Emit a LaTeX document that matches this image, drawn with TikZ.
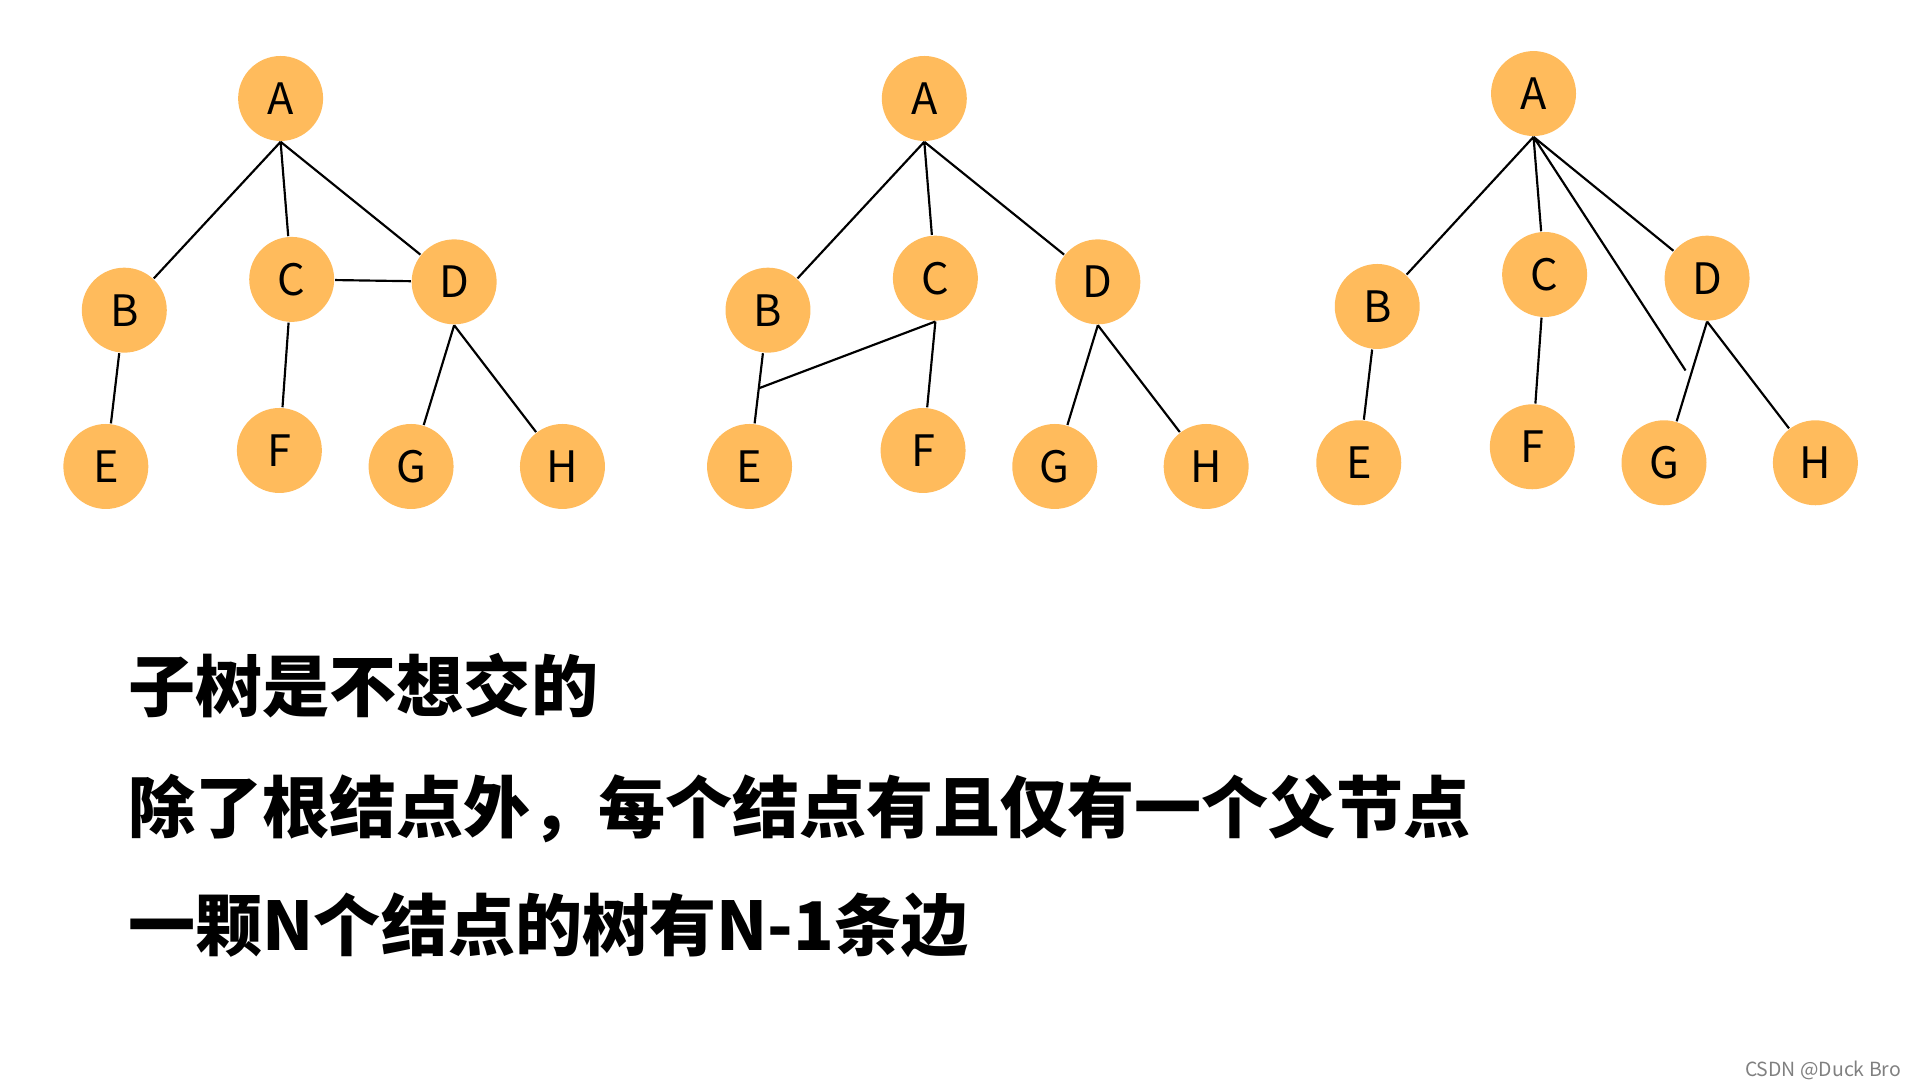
\documentclass[tikz,border=0pt]{standalone}
\usepackage{fontspec}
\setmainfont{Noto Sans CJK SC}
\usetikzlibrary{positioning,calc}

\tikzset{
  vert/.style={circle, fill=treeorange, minimum size=0.69cm, inner sep=0pt, font=\fontsize{10}{12}\selectfont},
  edge/.style={draw=black, line width=0.5pt},
  remark/.style={anchor=west, font=\fontsize{15.5}{18}\selectfont\bfseries}
}
\definecolor{treeorange}{HTML}{FFBB5C}

\begin{document}
\begin{tikzpicture}[x=0.01cm,y=-0.01cm]
        \useasboundingbox (0,0) rectangle (1560,878);

        % first tree
        \node[vert] (a1) at (228,80) {A};
        \node[vert] (b1) at (101,252) {B};
        \node[vert] (c1) at (237,227) {C};
        \node[vert] (d1) at (369,229) {D};
        \node[vert] (e1) at (86,379) {E};
        \node[vert] (f1) at (227,366) {F};
        \node[vert] (g1) at (334,379) {G};
        \node[vert] (h1) at (457,379) {H};
        \draw[edge] (a1.south) -- (b1) (a1.south) -- (c1) (a1.south) -- (d1)
                    (b1) -- (e1) (c1) -- (f1) (c1) -- (d1)
                    (d1.south) -- (g1) (d1.south) -- (h1);

        % second tree
        \node[vert] (a2) at (751,80) {A};
        \node[vert] (b2) at (624,252) {B};
        \node[vert] (c2) at (760,226) {C};
        \node[vert] (d2) at (892,229) {D};
        \node[vert] (e2) at (609,379) {E};
        \node[vert] (f2) at (750,366) {F};
        \node[vert] (g2) at (857,379) {G};
        \node[vert] (h2) at (980,379) {H};
        \coordinate (x2) at ($(b2)!0.5!(e2)$);
        \draw[edge] (a2.south) -- (b2) (a2.south) -- (c2) (a2.south) -- (d2)
                    (b2) -- (e2) (c2.south) -- (f2) (c2.south) -- (x2)
                    (d2.south) -- (g2) (d2.south) -- (h2);

        % third tree
        \node[vert] (a3) at (1246,76) {A};
        \node[vert] (b3) at (1119,249) {B};
        \node[vert] (c3) at (1255,223) {C};
        \node[vert] (d3) at (1387,226) {D};
        \node[vert] (e3) at (1104,376) {E};
        \node[vert] (f3) at (1245,363) {F};
        \node[vert] (g3) at (1352,376) {G};
        \node[vert] (h3) at (1475,376) {H};
        \coordinate (x3) at ($(d3)!0.5!(g3)$);
        \draw[edge] (a3.south) -- (b3) (a3.south) -- (c3) (a3.south) -- (d3)
                    (a3.south) -- (x3)
                    (b3) -- (e3) (c3) -- (f3)
                    (d3.south) -- (g3) (d3.south) -- (h3);

        % remarks
        \node[remark] (r1) at (92,557) {子树是不想交的};
        \node[remark] (r2) at (92,657) {除了根结点外，每个结点有且仅有一个父节点};
        \node[remark] (r3) at (92,752) {一颗N个结点的树有N-1条边};

        \node[anchor=east, text=gray, font=\fontsize{4.5}{5}\selectfont] (mark) at (1557,870) {CSDN @Duck Bro};
\end{tikzpicture}
\end{document}
